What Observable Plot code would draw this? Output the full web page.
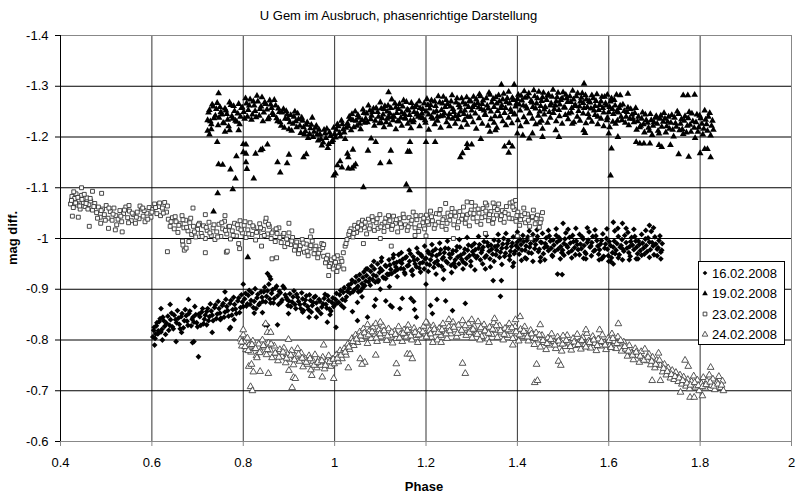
<!DOCTYPE html>
<html><head><meta charset="utf-8">
<script src="https://cdn.jsdelivr.net/npm/d3@7"></script>
<script src="https://cdn.jsdelivr.net/npm/@observablehq/plot@0.6"></script>
<style>body{margin:0;background:#fff}</style>
</head><body><div id="chart"></div>
<script>
const title = "U Gem im Ausbruch, phasenrichtige Darstellung";
const xLabel = "Phase";
const yLabel = "mag diff.";
const seriesNames = ["16.02.2008","19.02.2008","23.02.2008","24.02.2008"];
const xTicks = [0.4,0.6,0.8,1,1.2,1.4,1.6,1.8,2];
const yTicks = [-1.4,-1.3,-1.2,-1.1,-1,-0.9,-0.8,-0.7,-0.6];

// 16.02.2008 (phase, mag diff.)
const b16 = [[0.602,-0.806],[0.605,-0.825],[0.608,-0.812],[0.611,-0.834],[0.614,-0.818],[0.618,-0.842],[0.622,-0.821],[0.626,-0.838],[0.630,-0.811],[0.635,-0.847],[0.639,-0.829],[0.643,-0.853],[0.647,-0.822],[0.652,-0.840],[0.656,-0.858],[0.660,-0.831],[0.664,-0.846],[0.669,-0.824],[0.673,-0.860],[0.677,-0.837],[0.681,-0.852],[0.686,-0.828],[0.690,-0.845],[0.694,-0.866],[0.698,-0.834],[0.703,-0.851],[0.707,-0.829],[0.711,-0.862],[0.715,-0.841],[0.720,-0.856],[0.724,-0.838],[0.728,-0.871],[0.732,-0.849],[0.737,-0.864],[0.741,-0.842],[0.745,-0.876],[0.749,-0.853],[0.754,-0.868],[0.758,-0.845],[0.762,-0.880],[0.766,-0.858],[0.771,-0.872],[0.775,-0.849],[0.779,-0.884],[0.783,-0.861],[0.788,-0.877],[0.792,-0.854],[0.796,-0.889],[0.800,-0.866],[0.805,-0.892],[0.809,-0.871],[0.813,-0.898],[0.817,-0.878],[0.822,-0.864],[0.826,-0.901],[0.830,-0.883],[0.834,-0.869],[0.839,-0.895],[0.843,-0.876],[0.847,-0.904],[0.851,-0.886],[0.856,-0.910],[0.860,-0.873],[0.864,-0.899],[0.868,-0.882],[0.873,-0.906],[0.877,-0.870],[0.881,-0.893],[0.885,-0.879],[0.890,-0.902],[0.894,-0.884],[0.898,-0.868],[0.902,-0.891],[0.907,-0.875],[0.911,-0.897],[0.915,-0.862],[0.919,-0.884],[0.924,-0.870],[0.928,-0.893],[0.932,-0.858],[0.936,-0.879],[0.941,-0.866],[0.945,-0.889],[0.949,-0.855],[0.953,-0.874],[0.958,-0.886],[0.962,-0.861],[0.966,-0.880],[0.970,-0.852],[0.975,-0.871],[0.979,-0.890],[0.983,-0.863],[0.987,-0.878],[0.992,-0.857],[0.996,-0.883],[1.000,-0.869],[1.004,-0.892],[1.009,-0.874],[1.013,-0.898],[1.017,-0.880],[1.021,-0.903],[1.026,-0.885],[1.030,-0.908],[1.034,-0.892],[1.038,-0.918],[1.043,-0.899],[1.047,-0.925],[1.051,-0.906],[1.055,-0.929],[1.060,-0.911],[1.064,-0.934],[1.068,-0.916],[1.072,-0.940],[1.077,-0.921],[1.081,-0.946],[1.085,-0.928],[1.089,-0.914],[1.094,-0.950],[1.098,-0.933],[1.102,-0.955],[1.106,-0.924],[1.111,-0.947],[1.115,-0.930],[1.119,-0.958],[1.123,-0.939],[1.128,-0.962],[1.132,-0.935],[1.136,-0.953],[1.140,-0.968],[1.145,-0.941],[1.149,-0.959],[1.153,-0.933],[1.157,-0.964],[1.162,-0.947],[1.166,-0.970],[1.170,-0.938],[1.174,-0.957],[1.179,-0.944],[1.183,-0.972],[1.187,-0.951],[1.191,-0.965],[1.196,-0.940],[1.200,-0.961],[1.204,-0.975],[1.208,-0.948],[1.213,-0.967],[1.217,-0.943],[1.221,-0.979],[1.225,-0.956],[1.230,-0.970],[1.234,-0.945],[1.238,-0.963],[1.242,-0.981],[1.247,-0.952],[1.251,-0.969],[1.255,-0.947],[1.259,-0.976],[1.264,-0.958],[1.268,-0.984],[1.272,-0.950],[1.276,-0.967],[1.281,-0.954],[1.285,-0.979],[1.289,-0.961],[1.293,-0.987],[1.298,-0.955],[1.302,-0.974],[1.306,-0.990],[1.310,-0.962],[1.315,-0.981],[1.319,-0.958],[1.323,-0.977],[1.327,-0.994],[1.332,-0.966],[1.336,-0.985],[1.340,-0.960],[1.344,-0.979],[1.349,-0.997],[1.353,-0.968],[1.357,-0.986],[1.361,-0.963],[1.366,-0.981],[1.370,-1.000],[1.374,-0.971],[1.378,-0.990],[1.383,-0.966],[1.387,-0.984],[1.391,-1.003],[1.395,-0.975],[1.400,-0.993],[1.404,-0.969],[1.408,-0.988],[1.412,-1.006],[1.417,-0.977],[1.421,-0.996],[1.425,-0.972],[1.429,-0.990],[1.434,-1.008],[1.438,-0.980],[1.442,-0.998],[1.446,-0.974],[1.451,-0.993],[1.455,-1.010],[1.459,-0.982],[1.463,-1.001],[1.468,-0.976],[1.472,-0.995],[1.476,-0.967],[1.480,-0.987],[1.485,-1.006],[1.489,-0.979],[1.493,-0.997],[1.497,-0.972],[1.502,-0.990],[1.506,-1.011],[1.510,-0.983],[1.514,-1.002],[1.519,-0.976],[1.523,-0.994],[1.527,-0.968],[1.531,-0.988],[1.536,-1.008],[1.540,-0.980],[1.544,-0.999],[1.548,-0.973],[1.553,-0.992],[1.557,-1.013],[1.561,-0.985],[1.565,-1.004],[1.570,-0.977],[1.574,-0.996],[1.578,-0.969],[1.582,-0.989],[1.587,-1.009],[1.591,-0.981],[1.595,-1.000],[1.599,-0.966],[1.604,-0.986],[1.608,-0.972],[1.612,-0.995],[1.616,-0.977],[1.621,-1.004],[1.625,-0.983],[1.629,-0.998],[1.633,-0.975],[1.638,-0.992],[1.642,-1.012],[1.646,-0.984],[1.650,-1.002],[1.655,-0.978],[1.659,-0.995],[1.663,-0.970],[1.667,-0.988],[1.672,-1.008],[1.676,-0.981],[1.680,-0.999],[1.684,-0.974],[1.689,-0.993],[1.693,-1.014],[1.697,-0.985],[1.701,-1.003],[1.706,-0.979],[1.710,-0.996],[1.714,-0.973],[1.717,-0.990]];
const c16 = [[0.604,-0.819],[0.607,-0.803],[0.610,-0.828],[0.613,-0.812],[0.616,-0.836],[0.620,-0.816],[0.624,-0.845],[0.628,-0.827],[0.632,-0.833],[0.637,-0.819],[0.641,-0.840],[0.645,-0.826],[0.649,-0.849],[0.654,-0.834],[0.658,-0.843],[0.662,-0.822],[0.666,-0.852],[0.671,-0.838],[0.675,-0.848],[0.679,-0.829],[0.683,-0.857],[0.688,-0.841],[0.692,-0.835],[0.696,-0.850],[0.700,-0.826],[0.705,-0.846],[0.709,-0.855],[0.713,-0.832],[0.717,-0.849],[0.722,-0.862],[0.726,-0.846],[0.730,-0.857],[0.734,-0.838],[0.739,-0.869],[0.743,-0.851],[0.747,-0.862],[0.751,-0.843],[0.756,-0.872],[0.760,-0.855],[0.764,-0.866],[0.768,-0.847],[0.773,-0.878],[0.777,-0.860],[0.781,-0.870],[0.785,-0.852],[0.790,-0.883],[0.794,-0.864],[0.798,-0.875],[0.803,-0.881],[0.807,-0.867],[0.811,-0.888],[0.815,-0.870],[0.819,-0.893],[0.824,-0.876],[0.828,-0.862],[0.832,-0.890],[0.836,-0.872],[0.841,-0.884],[0.845,-0.895],[0.849,-0.875],[0.853,-0.897],[0.858,-0.881],[0.862,-0.892],[0.866,-0.873],[0.870,-0.902],[0.875,-0.887],[0.879,-0.896],[0.883,-0.875],[0.887,-0.906],[0.892,-0.889],[0.896,-0.880],[0.900,-0.877],[0.904,-0.866],[0.909,-0.885],[0.913,-0.870],[0.917,-0.890],[0.921,-0.876],[0.926,-0.862],[0.930,-0.881],[0.934,-0.871],[0.938,-0.887],[0.943,-0.860],[0.947,-0.878],[0.951,-0.868],[0.955,-0.884],[0.960,-0.873],[0.964,-0.858],[0.968,-0.876],[0.972,-0.865],[0.977,-0.882],[0.981,-0.870],[0.985,-0.887],[0.989,-0.861],[0.994,-0.874],[0.998,-0.866],[1.002,-0.880],[1.006,-0.873],[1.011,-0.889],[1.015,-0.868],[1.019,-0.894],[1.023,-0.878],[1.028,-0.896],[1.032,-0.902],[1.036,-0.911],[1.040,-0.895],[1.045,-0.914],[1.049,-0.903],[1.053,-0.918],[1.057,-0.897],[1.062,-0.923],[1.066,-0.907],[1.070,-0.927],[1.074,-0.915],[1.079,-0.935],[1.083,-0.919],[1.087,-0.940],[1.091,-0.926],[1.096,-0.918],[1.100,-0.941],[1.104,-0.937],[1.108,-0.922],[1.113,-0.945],[1.117,-0.929],[1.121,-0.948],[1.125,-0.931],[1.130,-0.951],[1.134,-0.944],[1.138,-0.939],[1.142,-0.955],[1.147,-0.951],[1.151,-0.940],[1.155,-0.962],[1.159,-0.946],[1.164,-0.955],[1.168,-0.936],[1.172,-0.964],[1.176,-0.950],[1.181,-0.959],[1.185,-0.942],[1.189,-0.968],[1.193,-0.953],[1.198,-0.960],[1.202,-0.950],[1.206,-0.971],[1.210,-0.958],[1.215,-0.975],[1.219,-0.952],[1.223,-0.966],[1.227,-0.948],[1.232,-0.978],[1.236,-0.960],[1.240,-0.972],[1.244,-0.955],[1.249,-0.980],[1.253,-0.962],[1.257,-0.970],[1.261,-0.951],[1.266,-0.976],[1.270,-0.964],[1.274,-0.983],[1.278,-0.959],[1.283,-0.971],[1.287,-0.950],[1.291,-0.977],[1.295,-0.966],[1.300,-0.985],[1.304,-0.968],[1.308,-0.978],[1.312,-0.965],[1.317,-0.988],[1.321,-0.972],[1.325,-0.983],[1.329,-0.963],[1.334,-0.992],[1.338,-0.975],[1.342,-0.987],[1.346,-0.969],[1.351,-0.984],[1.355,-0.977],[1.359,-0.995],[1.363,-0.973],[1.368,-0.989],[1.372,-0.965],[1.376,-0.982],[1.380,-0.996],[1.385,-0.975],[1.389,-0.991],[1.393,-0.970],[1.397,-0.986],[1.402,-0.981],[1.406,-0.998],[1.410,-0.977],[1.414,-0.994],[1.419,-0.985],[1.423,-1.003],[1.427,-0.983],[1.431,-0.971],[1.436,-0.996],[1.440,-0.988],[1.444,-1.004],[1.448,-0.979],[1.453,-0.992],[1.457,-0.970],[1.461,-0.990],[1.465,-0.984],[1.470,-1.005],[1.474,-0.981],[1.478,-0.997],[1.482,-0.975],[1.487,-0.993],[1.491,-1.002],[1.495,-0.984],[1.499,-0.977],[1.504,-0.999],[1.508,-0.986],[1.512,-0.972],[1.516,-0.991],[1.521,-1.006],[1.525,-0.982],[1.529,-0.995],[1.533,-0.978],[1.538,-0.989],[1.542,-1.003],[1.546,-0.986],[1.550,-0.970],[1.555,-0.997],[1.559,-0.983],[1.563,-0.992],[1.567,-0.975],[1.572,-1.005],[1.576,-0.985],[1.580,-0.978],[1.584,-0.996],[1.589,-0.965],[1.593,-0.989],[1.597,-0.979],[1.601,-0.994],[1.606,-0.962],[1.610,-0.983],[1.614,-0.970],[1.618,-0.990],[1.623,-0.968],[1.627,-0.986],[1.631,-0.979],[1.635,-1.006],[1.640,-0.981],[1.644,-0.972],[1.648,-0.994],[1.652,-0.987],[1.657,-1.004],[1.661,-0.983],[1.665,-0.995],[1.669,-0.976],[1.674,-0.991],[1.678,-0.969],[1.682,-0.986],[1.686,-1.001],[1.691,-0.978],[1.695,-0.992],[1.699,-0.968],[1.703,-0.989],[1.708,-0.982],[1.712,-1.005],[1.716,-0.977]];
const e16 = [[1.052,-0.895],[1.061,-0.902],[1.069,-0.940],[1.078,-0.908],[1.086,-0.955],[1.095,-0.915],[1.103,-0.962],[1.112,-0.921],[1.120,-0.930],[1.129,-0.968],[1.137,-0.925],[1.146,-0.972],[1.154,-0.930],[1.163,-0.977],[1.171,-0.928],[1.180,-0.981],[1.188,-0.934],[1.197,-0.985],[1.205,-0.935],[1.213,-0.988],[1.222,-0.930],[1.230,-0.991],[1.239,-0.938],[1.247,-0.995],[1.256,-0.933],[1.264,-0.944],[1.273,-0.998],[1.281,-0.940],[1.290,-1.002],[1.298,-0.946],[1.307,-0.938],[1.315,-1.004],[1.324,-0.950],[1.332,-1.006],[1.341,-0.944],[1.349,-0.955],[1.358,-1.008],[1.366,-0.949],[1.375,-1.010],[1.383,-0.958],[1.392,-0.952],[1.400,-1.013],[1.409,-0.957],[1.417,-0.962],[1.426,-1.015],[1.434,-0.955],[1.443,-1.017],[1.451,-0.963],[1.460,-0.958],[1.468,-1.016],[1.477,-0.965],[1.485,-1.019],[1.494,-0.960],[1.502,-0.967],[1.511,-1.018],[1.519,-0.962],[1.528,-1.020],[1.536,-0.968],[1.545,-0.961],[1.553,-1.021],[1.562,-0.966],[1.570,-1.017],[1.579,-0.958],[1.587,-0.963],[1.596,-1.019],[1.604,-0.955],[1.613,-1.015],[1.621,-0.962],[1.630,-0.958],[1.638,-1.020],[1.647,-0.965],[1.655,-1.018],[1.664,-0.960],[1.672,-0.967],[1.681,-1.016],[1.689,-0.963],[1.698,-1.021],[1.706,-0.966],[1.714,-0.960]];
const o16 = [[0.606,-0.79],[0.623,-0.8],[0.653,-0.797],[0.689,-0.795],[0.692,-0.797],[0.702,-0.767],[0.732,-0.815],[0.772,-0.825],[0.77,-0.822],[0.824,-0.853],[0.842,-0.854],[0.847,-0.83],[0.875,-0.83],[0.853,-0.829],[0.899,-0.852],[0.944,-0.845],[0.984,-0.835],[1.003,-0.825],[0.99,-0.85],[0.853,-0.931],[0.858,-0.925],[1.02,-0.864],[1.039,-0.856],[1.05,-0.874],[1.05,-0.838],[1.072,-0.845],[1.087,-0.867],[1.09,-0.88],[1.112,-0.877],[1.122,-0.868],[1.126,-0.865],[1.143,-0.862],[1.148,-0.882],[1.167,-0.882],[1.173,-0.876],[1.175,-0.86],[1.179,-0.845],[1.21,-0.868],[1.214,-0.852],[1.224,-0.88],[1.243,-0.877],[1.258,-0.858],[1.286,-0.872],[1.347,-0.917],[1.365,-0.917],[1.363,-0.886],[1.39,-0.945],[1.498,-0.929],[1.488,-0.93],[1.61,-1.032],[1.63,-1.03],[1.62,-1.02],[1.689,-1.026],[1.5,-1.03],[1.238,-0.92],[1.12,-0.905],[1.2,-0.91],[1.6,-0.955],[1.61,-0.95],[1.585,-0.96],[1.66,-0.96],[1.645,-0.958],[0.62,-0.862],[0.64,-0.87],[0.68,-0.88],[0.76,-0.895],[0.8,-0.91],[0.86,-0.92],[0.665,-0.815],[0.72,-0.83],[0.75,-0.84],[0.78,-0.84],[0.93,-0.855],[0.96,-0.845],[1.06,-0.885],[1.1,-0.9],[1.33,-0.94],[1.42,-0.96],[1.45,-0.955],[1.55,-0.96]];

// 19.02.2008
const b19 = [[0.722,-1.233],[0.726,-1.253],[0.730,-1.225],[0.734,-1.260],[0.739,-1.242],[0.743,-1.267],[0.747,-1.238],[0.751,-1.249],[0.756,-1.228],[0.760,-1.256],[0.764,-1.245],[0.768,-1.221],[0.773,-1.263],[0.777,-1.236],[0.781,-1.251],[0.786,-1.230],[0.790,-1.265],[0.794,-1.240],[0.798,-1.258],[0.803,-1.236],[0.807,-1.266],[0.811,-1.253],[0.815,-1.274],[0.820,-1.244],[0.824,-1.262],[0.828,-1.239],[0.832,-1.270],[0.837,-1.255],[0.841,-1.278],[0.845,-1.248],[0.849,-1.265],[0.854,-1.235],[0.858,-1.272],[0.862,-1.257],[0.866,-1.243],[0.871,-1.262],[0.875,-1.231],[0.879,-1.249],[0.883,-1.222],[0.888,-1.255],[0.892,-1.236],[0.896,-1.244],[0.900,-1.215],[0.904,-1.243],[0.909,-1.226],[0.913,-1.250],[0.917,-1.219],[0.921,-1.235],[0.926,-1.208],[0.930,-1.232],[0.934,-1.205],[0.938,-1.224],[0.942,-1.198],[0.947,-1.217],[0.951,-1.238],[0.955,-1.210],[0.960,-1.222],[0.964,-1.193],[0.968,-1.205],[0.972,-1.183],[0.977,-1.214],[0.981,-1.198],[0.985,-1.178],[0.989,-1.209],[0.994,-1.190],[0.998,-1.218],[1.002,-1.199],[1.006,-1.225],[1.011,-1.208],[1.015,-1.232],[1.019,-1.215],[1.023,-1.196],[1.028,-1.227],[1.032,-1.240],[1.036,-1.213],[1.040,-1.233],[1.045,-1.250],[1.049,-1.222],[1.053,-1.238],[1.057,-1.215],[1.062,-1.254],[1.066,-1.228],[1.070,-1.246],[1.074,-1.262],[1.079,-1.235],[1.083,-1.249],[1.087,-1.222],[1.091,-1.257],[1.096,-1.240],[1.100,-1.268],[1.104,-1.237],[1.108,-1.255],[1.113,-1.229],[1.117,-1.262],[1.121,-1.246],[1.125,-1.274],[1.130,-1.240],[1.134,-1.258],[1.138,-1.231],[1.142,-1.265],[1.147,-1.248],[1.151,-1.272],[1.155,-1.236],[1.159,-1.254],[1.164,-1.243],[1.168,-1.267],[1.172,-1.229],[1.176,-1.259],[1.181,-1.246],[1.185,-1.270],[1.189,-1.238],[1.193,-1.255],[1.198,-1.233],[1.202,-1.275],[1.206,-1.244],[1.210,-1.263],[1.215,-1.236],[1.219,-1.270],[1.223,-1.251],[1.227,-1.280],[1.232,-1.241],[1.236,-1.266],[1.240,-1.247],[1.244,-1.273],[1.249,-1.238],[1.253,-1.260],[1.257,-1.282],[1.261,-1.249],[1.266,-1.268],[1.270,-1.235],[1.274,-1.258],[1.278,-1.276],[1.283,-1.245],[1.287,-1.264],[1.291,-1.240],[1.295,-1.271],[1.300,-1.252],[1.304,-1.279],[1.308,-1.246],[1.313,-1.267],[1.317,-1.284],[1.321,-1.255],[1.325,-1.272],[1.330,-1.243],[1.334,-1.262],[1.338,-1.287],[1.342,-1.250],[1.347,-1.275],[1.351,-1.241],[1.355,-1.266],[1.359,-1.282],[1.364,-1.257],[1.368,-1.274],[1.372,-1.247],[1.376,-1.269],[1.381,-1.289],[1.385,-1.254],[1.389,-1.277],[1.393,-1.244],[1.398,-1.266],[1.402,-1.283],[1.406,-1.252],[1.410,-1.272],[1.415,-1.290],[1.419,-1.260],[1.423,-1.279],[1.427,-1.247],[1.432,-1.268],[1.436,-1.292],[1.440,-1.256],[1.444,-1.276],[1.449,-1.250],[1.453,-1.271],[1.457,-1.287],[1.461,-1.259],[1.466,-1.281],[1.470,-1.249],[1.474,-1.266],[1.478,-1.293],[1.483,-1.262],[1.487,-1.278],[1.491,-1.253],[1.495,-1.273],[1.500,-1.288],[1.504,-1.258],[1.508,-1.276],[1.512,-1.246],[1.517,-1.269],[1.521,-1.291],[1.525,-1.261],[1.529,-1.280],[1.534,-1.251],[1.538,-1.270],[1.542,-1.286],[1.546,-1.257],[1.551,-1.274],[1.555,-1.245],[1.559,-1.268],[1.563,-1.282],[1.568,-1.252],[1.572,-1.271],[1.576,-1.240],[1.580,-1.263],[1.585,-1.279],[1.589,-1.248],[1.593,-1.266],[1.597,-1.238],[1.602,-1.259],[1.606,-1.276],[1.610,-1.245],[1.614,-1.262],[1.619,-1.232],[1.623,-1.257],[1.627,-1.240],[1.631,-1.264],[1.636,-1.228],[1.640,-1.249],[1.644,-1.223],[1.648,-1.255],[1.653,-1.236],[1.657,-1.247],[1.661,-1.214],[1.665,-1.240],[1.670,-1.222],[1.674,-1.248],[1.678,-1.209],[1.682,-1.233],[1.687,-1.218],[1.691,-1.245],[1.695,-1.204],[1.699,-1.229],[1.704,-1.241],[1.708,-1.212],[1.712,-1.236],[1.716,-1.220],[1.721,-1.247],[1.725,-1.209],[1.729,-1.230],[1.733,-1.216],[1.738,-1.243],[1.742,-1.201],[1.746,-1.227],[1.750,-1.250],[1.755,-1.213],[1.759,-1.235],[1.763,-1.206],[1.767,-1.241],[1.772,-1.222],[1.776,-1.249],[1.780,-1.210],[1.784,-1.231],[1.789,-1.198],[1.793,-1.244],[1.797,-1.219],[1.801,-1.237],[1.806,-1.205],[1.810,-1.252],[1.814,-1.225],[1.818,-1.240],[1.823,-1.203],[1.827,-1.232],[1.829,-1.214]];
const c19 = [[0.724,-1.248],[0.728,-1.231],[0.732,-1.264],[0.736,-1.237],[0.741,-1.255],[0.745,-1.223],[0.749,-1.259],[0.753,-1.244],[0.758,-1.227],[0.762,-1.252],[0.766,-1.234],[0.770,-1.268],[0.775,-1.241],[0.779,-1.261],[0.783,-1.232],[0.788,-1.246],[0.792,-1.225],[0.796,-1.257],[0.801,-1.249],[0.805,-1.276],[0.809,-1.240],[0.813,-1.262],[0.818,-1.234],[0.822,-1.270],[0.826,-1.251],[0.830,-1.281],[0.835,-1.242],[0.839,-1.260],[0.843,-1.231],[0.847,-1.268],[0.852,-1.254],[0.856,-1.238],[0.860,-1.264],[0.864,-1.247],[0.868,-1.273],[0.873,-1.237],[0.877,-1.256],[0.881,-1.229],[0.885,-1.248],[0.890,-1.218],[0.894,-1.251],[0.898,-1.236],[0.902,-1.229],[0.906,-1.212],[0.911,-1.240],[0.915,-1.231],[0.919,-1.246],[0.924,-1.222],[0.928,-1.238],[0.932,-1.219],[0.936,-1.211],[0.940,-1.229],[0.945,-1.206],[0.949,-1.224],[0.953,-1.200],[0.958,-1.218],[0.962,-1.205],[0.966,-1.214],[0.970,-1.196],[0.975,-1.189],[0.979,-1.207],[0.983,-1.216],[0.987,-1.186],[0.991,-1.202],[0.996,-1.194],[1.000,-1.206],[1.004,-1.214],[1.008,-1.221],[1.013,-1.201],[1.017,-1.225],[1.021,-1.209],[1.025,-1.218],[1.030,-1.221],[1.034,-1.235],[1.038,-1.245],[1.042,-1.219],[1.047,-1.232],[1.051,-1.243],[1.055,-1.226],[1.060,-1.233],[1.064,-1.247],[1.068,-1.236],[1.072,-1.229],[1.077,-1.252],[1.081,-1.242],[1.085,-1.256],[1.089,-1.232],[1.094,-1.249],[1.098,-1.227],[1.102,-1.256],[1.106,-1.244],[1.110,-1.261],[1.115,-1.250],[1.119,-1.239],[1.123,-1.257],[1.128,-1.233],[1.132,-1.266],[1.136,-1.247],[1.140,-1.255],[1.145,-1.238],[1.149,-1.260],[1.153,-1.245],[1.157,-1.269],[1.162,-1.252],[1.166,-1.232],[1.170,-1.258],[1.174,-1.249],[1.179,-1.263],[1.183,-1.240],[1.187,-1.257],[1.191,-1.246],[1.196,-1.266],[1.200,-1.250],[1.204,-1.263],[1.208,-1.256],[1.212,-1.272],[1.217,-1.248],[1.221,-1.261],[1.225,-1.240],[1.230,-1.268],[1.234,-1.253],[1.238,-1.279],[1.242,-1.259],[1.247,-1.265],[1.251,-1.245],[1.255,-1.270],[1.259,-1.255],[1.264,-1.241],[1.268,-1.276],[1.272,-1.263],[1.276,-1.250],[1.281,-1.268],[1.285,-1.252],[1.289,-1.278],[1.293,-1.259],[1.298,-1.270],[1.302,-1.259],[1.306,-1.263],[1.310,-1.274],[1.315,-1.258],[1.319,-1.280],[1.323,-1.265],[1.327,-1.252],[1.332,-1.276],[1.336,-1.256],[1.340,-1.283],[1.344,-1.268],[1.349,-1.259],[1.353,-1.278],[1.357,-1.251],[1.361,-1.270],[1.366,-1.262],[1.370,-1.285],[1.374,-1.257],[1.378,-1.276],[1.383,-1.266],[1.387,-1.249],[1.391,-1.273],[1.396,-1.260],[1.400,-1.275],[1.404,-1.264],[1.408,-1.281],[1.413,-1.262],[1.417,-1.277],[1.421,-1.256],[1.425,-1.286],[1.430,-1.271],[1.434,-1.259],[1.438,-1.280],[1.442,-1.266],[1.447,-1.289],[1.451,-1.261],[1.455,-1.278],[1.459,-1.254],[1.464,-1.273],[1.468,-1.284],[1.472,-1.262],[1.476,-1.279],[1.481,-1.255],[1.485,-1.270],[1.489,-1.287],[1.493,-1.264],[1.498,-1.276],[1.502,-1.258],[1.506,-1.283],[1.510,-1.269],[1.515,-1.280],[1.519,-1.257],[1.523,-1.274],[1.527,-1.263],[1.532,-1.286],[1.536,-1.260],[1.540,-1.277],[1.544,-1.267],[1.549,-1.282],[1.553,-1.259],[1.557,-1.271],[1.561,-1.256],[1.566,-1.276],[1.570,-1.261],[1.574,-1.284],[1.578,-1.253],[1.583,-1.270],[1.587,-1.257],[1.591,-1.279],[1.595,-1.262],[1.600,-1.249],[1.604,-1.270],[1.608,-1.255],[1.612,-1.273],[1.617,-1.250],[1.621,-1.248],[1.625,-1.262],[1.629,-1.233],[1.634,-1.251],[1.638,-1.240],[1.642,-1.258],[1.646,-1.236],[1.651,-1.244],[1.655,-1.229],[1.659,-1.257],[1.663,-1.231],[1.668,-1.219],[1.672,-1.236],[1.676,-1.225],[1.680,-1.244],[1.685,-1.228],[1.689,-1.212],[1.693,-1.233],[1.697,-1.222],[1.702,-1.238],[1.706,-1.226],[1.710,-1.207],[1.714,-1.242],[1.719,-1.230],[1.723,-1.236],[1.727,-1.221],[1.731,-1.240],[1.736,-1.228],[1.740,-1.214],[1.744,-1.238],[1.748,-1.220],[1.753,-1.245],[1.757,-1.226],[1.761,-1.215],[1.765,-1.232],[1.770,-1.209],[1.774,-1.237],[1.778,-1.224],[1.782,-1.246],[1.787,-1.218],[1.791,-1.229],[1.795,-1.210],[1.799,-1.242],[1.804,-1.226],[1.808,-1.216],[1.812,-1.234],[1.816,-1.212],[1.821,-1.247],[1.825,-1.222]];
const e19 = [[1.102,-1.228],[1.108,-1.219],[1.115,-1.236],[1.121,-1.224],[1.128,-1.241],[1.134,-1.215],[1.141,-1.231],[1.147,-1.222],[1.154,-1.238],[1.160,-1.226],[1.167,-1.217],[1.173,-1.233],[1.180,-1.244],[1.186,-1.221],[1.193,-1.237],[1.199,-1.228],[1.206,-1.214],[1.212,-1.239],[1.219,-1.225],[1.225,-1.232],[1.232,-1.218],[1.238,-1.242],[1.245,-1.229],[1.251,-1.221],[1.258,-1.236],[1.264,-1.226],[1.271,-1.243],[1.277,-1.219],[1.284,-1.233],[1.290,-1.224],[1.297,-1.240],[1.303,-1.229],[1.310,-1.216],[1.316,-1.237],[1.323,-1.226],[1.329,-1.244],[1.336,-1.222],[1.342,-1.235],[1.349,-1.228],[1.355,-1.218],[1.362,-1.241],[1.368,-1.231],[1.375,-1.223],[1.381,-1.238],[1.388,-1.227],[1.394,-1.245],[1.401,-1.233],[1.407,-1.221],[1.414,-1.239],[1.420,-1.229],[1.427,-1.246],[1.433,-1.236],[1.440,-1.225],[1.446,-1.242],[1.453,-1.232],[1.459,-1.244],[1.466,-1.228],[1.472,-1.238],[1.479,-1.247],[1.485,-1.231],[1.492,-1.241],[1.498,-1.226],[1.505,-1.243],[1.511,-1.235],[1.518,-1.248],[1.524,-1.229],[1.531,-1.240],[1.537,-1.232],[1.544,-1.246],[1.550,-1.227],[1.557,-1.238],[1.563,-1.230],[1.570,-1.243],[1.576,-1.225],[1.583,-1.236],[1.589,-1.221],[1.596,-1.233],[1.602,-1.219],[1.609,-1.230],[1.615,-1.226]];
const o19 = [[0.743,-1.19],[0.746,-1.146],[0.755,-1.145],[0.772,-1.136],[0.783,-1.118],[0.777,-1.097],[0.744,-1.089],[0.785,-1.162],[0.8,-1.17],[0.8,-1.186],[0.806,-1.185],[0.806,-1.167],[0.806,-1.15],[0.808,-1.137],[0.823,-1.118],[0.827,-1.167],[0.838,-1.174],[0.842,-1.176],[0.853,-1.185],[0.875,-1.15],[0.881,-1.13],[0.896,-1.148],[0.9,-1.165],[0.932,-1.16],[0.938,-1.166],[0.998,-1.124],[1.002,-1.128],[1.006,-1.144],[1.012,-1.152],[1.028,-1.167],[1.03,-1.16],[1.016,-1.14],[1.03,-1.138],[1.04,-1.175],[1.038,-1.138],[1.042,-1.142],[1.046,-1.146],[1.063,-1.101],[1.073,-1.173],[1.08,-1.197],[1.09,-1.19],[1.12,-1.15],[1.123,-1.173],[1.16,-1.171],[1.164,-1.171],[1.157,-1.106],[1.164,-1.095],[1.165,-1.19],[1.2,-1.19],[1.22,-1.19],[1.29,-1.186],[1.29,-1.178],[1.275,-1.16],[1.28,-1.168],[1.3,-1.185],[1.32,-1.196],[1.34,-1.21],[1.352,-1.213],[1.372,-1.181],[1.382,-1.188],[1.389,-1.181],[1.381,-1.169],[1.4,-1.207],[1.412,-1.203],[1.426,-1.197],[1.433,-1.207],[1.42,-1.23],[1.448,-1.228],[1.455,-1.216],[1.455,-1.2],[1.484,-1.213],[1.491,-1.2],[1.52,-1.226],[1.545,-1.213],[1.548,-1.208],[1.6,-1.207],[1.606,-1.177],[1.604,-1.124],[1.62,-1.2],[1.66,-1.19],[1.668,-1.187],[1.677,-1.187],[1.69,-1.187],[1.71,-1.184],[1.716,-1.18],[1.735,-1.184],[1.753,-1.166],[1.775,-1.161],[1.8,-1.168],[1.81,-1.176],[1.816,-1.176],[1.823,-1.16],[1.365,-1.303],[1.393,-1.303],[1.546,-1.305],[1.763,-1.282],[1.773,-1.282],[1.788,-1.283],[1.597,-1.283],[1.617,-1.283],[1.625,-1.282],[1.642,-1.285],[0.735,-1.053],[0.81,-0.963],[0.746,-1.286],[1.118,-1.288],[1.1,-1.148],[0.722,-1.212],[0.73,-1.215],[0.726,-1.205],[0.76,-1.21],[0.79,-1.213],[0.77,-1.213]];

// 23.02.2008
const b23 = [[0.422,-1.068],[0.425,-1.083],[0.428,-1.061],[0.431,-1.079],[0.434,-1.088],[0.437,-1.066],[0.440,-1.076],[0.443,-1.058],[0.446,-1.085],[0.450,-1.071],[0.454,-1.063],[0.458,-1.080],[0.462,-1.067],[0.466,-1.074],[0.470,-1.056],[0.475,-1.069],[0.479,-1.051],[0.483,-1.062],[0.487,-1.042],[0.492,-1.058],[0.496,-1.047],[0.500,-1.065],[0.504,-1.040],[0.509,-1.053],[0.513,-1.036],[0.517,-1.060],[0.521,-1.045],[0.526,-1.038],[0.530,-1.055],[0.534,-1.033],[0.538,-1.049],[0.543,-1.062],[0.547,-1.041],[0.551,-1.054],[0.555,-1.035],[0.560,-1.047],[0.564,-1.030],[0.568,-1.052],[0.572,-1.039],[0.577,-1.058],[0.581,-1.044],[0.585,-1.033],[0.589,-1.050],[0.594,-1.061],[0.598,-1.042],[0.602,-1.057],[0.606,-1.068],[0.611,-1.049],[0.615,-1.063],[0.619,-1.045],[0.623,-1.060],[0.628,-1.071],[0.632,-1.052],[0.636,-1.038],[0.640,-1.024],[0.645,-1.041],[0.649,-1.019],[0.653,-1.033],[0.657,-1.012],[0.662,-1.029],[0.666,-1.045],[0.670,-1.021],[0.674,-1.036],[0.679,-1.015],[0.683,-1.031],[0.687,-1.008],[0.691,-1.024],[0.696,-1.003],[0.700,-1.018],[0.704,-1.030],[0.708,-1.010],[0.713,-1.025],[0.717,-1.000],[0.721,-1.016],[0.725,-1.032],[0.730,-1.006],[0.734,-1.021],[0.738,-0.998],[0.742,-1.013],[0.747,-1.028],[0.751,-1.004],[0.755,-1.019],[0.759,-1.034],[0.764,-1.009],[0.768,-1.023],[0.772,-0.999],[0.776,-1.015],[0.781,-1.030],[0.785,-1.005],[0.789,-1.020],[0.793,-1.035],[0.798,-1.011],[0.802,-1.026],[0.806,-1.002],[0.810,-1.017],[0.815,-1.031],[0.819,-1.008],[0.823,-1.022],[0.827,-0.997],[0.832,-1.014],[0.836,-1.029],[0.840,-1.004],[0.844,-1.018],[0.849,-1.033],[0.853,-1.009],[0.857,-1.024],[0.861,-1.000],[0.866,-1.015],[0.870,-0.994],[0.874,-1.010],[0.878,-1.021],[0.883,-0.992],[0.887,-1.006],[0.891,-0.984],[0.895,-0.999],[0.900,-1.011],[0.904,-0.988],[0.908,-1.002],[0.912,-0.977],[0.917,-0.993],[0.921,-0.970],[0.925,-0.986],[0.929,-0.998],[0.934,-0.973],[0.938,-0.989],[0.942,-0.966],[0.946,-0.981],[0.951,-0.995],[0.955,-0.970],[0.959,-0.985],[0.963,-0.962],[0.968,-0.978],[0.972,-0.990],[0.976,-0.965],[0.980,-0.952],[0.985,-0.967],[0.989,-0.945],[0.993,-0.958],[0.997,-0.940],[1.002,-0.953],[1.006,-0.966],[1.010,-0.947],[1.014,-0.960],[1.019,-0.972],[1.023,-0.985],[1.027,-0.998],[1.031,-1.008],[1.036,-1.019],[1.040,-1.003],[1.044,-1.026],[1.048,-1.012],[1.053,-1.031],[1.057,-1.017],[1.061,-1.036],[1.065,-1.022],[1.070,-1.009],[1.074,-1.038],[1.078,-1.025],[1.082,-1.043],[1.087,-1.016],[1.091,-1.031],[1.095,-1.020],[1.099,-1.047],[1.104,-1.028],[1.108,-1.014],[1.112,-1.040],[1.116,-1.024],[1.121,-1.035],[1.125,-1.018],[1.129,-1.044],[1.133,-1.030],[1.138,-1.013],[1.142,-1.039],[1.146,-1.022],[1.150,-1.048],[1.155,-1.027],[1.159,-1.016],[1.163,-1.041],[1.167,-1.029],[1.172,-1.052],[1.176,-1.021],[1.180,-1.037],[1.184,-1.014],[1.189,-1.045],[1.193,-1.031],[1.197,-1.019],[1.201,-1.046],[1.206,-1.028],[1.210,-1.054],[1.214,-1.035],[1.218,-1.020],[1.223,-1.049],[1.227,-1.032],[1.231,-1.057],[1.235,-1.024],[1.240,-1.041],[1.244,-1.018],[1.248,-1.050],[1.252,-1.036],[1.257,-1.059],[1.261,-1.027],[1.265,-1.044],[1.269,-1.021],[1.274,-1.053],[1.278,-1.038],[1.282,-1.062],[1.286,-1.030],[1.291,-1.047],[1.295,-1.025],[1.299,-1.056],[1.303,-1.040],[1.308,-1.064],[1.312,-1.033],[1.316,-1.050],[1.320,-1.028],[1.325,-1.059],[1.329,-1.043],[1.333,-1.066],[1.337,-1.035],[1.342,-1.053],[1.346,-1.030],[1.350,-1.061],[1.354,-1.046],[1.359,-1.068],[1.363,-1.037],[1.367,-1.055],[1.371,-1.032],[1.376,-1.063],[1.380,-1.048],[1.384,-1.070],[1.388,-1.039],[1.393,-1.057],[1.397,-1.034],[1.401,-1.052],[1.405,-1.026],[1.410,-1.045],[1.414,-1.060],[1.418,-1.031],[1.422,-1.048],[1.427,-1.024],[1.431,-1.041],[1.435,-1.056],[1.439,-1.029],[1.444,-1.046],[1.448,-1.022],[1.452,-1.038],[1.455,-1.051]];
const c23 = [[0.424,-1.075],[0.429,-1.092],[0.433,-1.070],[0.438,-1.081],[0.442,-1.064],[0.447,-1.077],[0.452,-1.087],[0.456,-1.069],[0.460,-1.058],[0.465,-1.079],[0.473,-1.063],[0.481,-1.040],[0.489,-1.055],[0.498,-1.036],[0.506,-1.060],[0.515,-1.048],[0.523,-1.027],[0.532,-1.044],[0.540,-1.056],[0.549,-1.031],[0.557,-1.050],[0.566,-1.042],[0.574,-1.064],[0.583,-1.055],[0.591,-1.038],[0.600,-1.052],[0.608,-1.061],[0.617,-1.070],[0.625,-1.050],[0.634,-1.064],[0.642,-1.033],[0.651,-1.043],[0.659,-1.026],[0.668,-1.037],[0.676,-1.022],[0.685,-1.040],[0.693,-1.013],[0.702,-1.027],[0.710,-1.004],[0.719,-1.022],[0.727,-1.011],[0.736,-1.027],[0.744,-1.003],[0.753,-1.031],[0.761,-1.016],[0.770,-1.024],[0.778,-1.006],[0.787,-1.027],[0.795,-1.017],[0.804,-1.033],[0.812,-1.009],[0.821,-1.025],[0.829,-1.012],[0.838,-1.021],[0.846,-1.006],[0.855,-1.028],[0.863,-1.011],[0.872,-1.019],[0.880,-1.002],[0.889,-1.010],[0.897,-0.990],[0.906,-0.995],[0.914,-0.985],[0.923,-0.978],[0.931,-0.991],[0.940,-0.975],[0.948,-0.986],[0.957,-0.978],[0.965,-0.971],[0.974,-0.982],[0.982,-0.960],[0.991,-0.950],[0.999,-0.962],[1.008,-0.944],[1.016,-0.955],[1.025,-0.990],[1.033,-1.014],[1.042,-1.010],[1.050,-1.022],[1.059,-1.027],[1.067,-1.032],[1.076,-1.019],[1.084,-1.035],[1.093,-1.039],[1.101,-1.023],[1.110,-1.032],[1.118,-1.045],[1.127,-1.026],[1.135,-1.037],[1.144,-1.029],[1.152,-1.041],[1.161,-1.023],[1.169,-1.036],[1.178,-1.045],[1.186,-1.025],[1.195,-1.040],[1.203,-1.033],[1.212,-1.043],[1.220,-1.027],[1.229,-1.048],[1.237,-1.037],[1.246,-1.030],[1.254,-1.045],[1.263,-1.052],[1.271,-1.033],[1.280,-1.046],[1.288,-1.040],[1.297,-1.050],[1.305,-1.049],[1.314,-1.058],[1.322,-1.041],[1.331,-1.054],[1.339,-1.047],[1.348,-1.039],[1.356,-1.057],[1.365,-1.045],[1.373,-1.051],[1.382,-1.040],[1.390,-1.062],[1.399,-1.045],[1.407,-1.037],[1.416,-1.049],[1.424,-1.036],[1.433,-1.043],[1.441,-1.039],[1.450,-1.031]];
const o23 = [[0.426,-1.044],[0.439,-1.042],[0.463,-1.024],[0.488,-1.03],[0.505,-1.02],[0.52,-1.017],[0.535,-1.013],[0.47,-1.093],[0.49,-1.089],[0.446,-1.1],[0.634,-0.974],[0.667,-0.995],[0.681,-0.994],[0.668,-0.987],[0.671,-0.977],[0.675,-0.981],[0.717,-0.972],[0.763,-0.973],[0.792,-0.98],[0.79,-0.99],[0.69,-1.06],[0.717,-1.047],[0.863,-0.96],[0.873,-0.962],[0.987,-0.927],[0.988,-0.945],[0.947,-1.003],[0.976,-0.988],[0.765,-0.975],[1.063,-0.99],[1.124,-0.985],[1.176,-1.006],[1.243,-1.069],[1.3,-1.071],[1.347,-1.07],[1.39,-1.072],[1.396,-1.075],[1.29,-1.072],[1.33,-1.07],[0.58,-1.06],[0.55,-1.065],[0.9,-1.03],[0.95,-1.015],[1.02,-0.94],[1.005,-0.935],[1.1,-1.0],[1.2,-1.005],[1.26,-1.0],[1.33,-1.01],[1.4,-1.005],[1.43,-1.0],[0.84,-0.985],[0.85,-1.04],[0.76,-1.045]];

// 24.02.2008
const b24 = [[0.794,-0.802],[0.797,-0.788],[0.800,-0.810],[0.803,-0.795],[0.806,-0.781],[0.809,-0.804],[0.813,-0.790],[0.817,-0.776],[0.821,-0.798],[0.825,-0.783],[0.829,-0.769],[0.834,-0.792],[0.838,-0.778],[0.842,-0.800],[0.846,-0.786],[0.851,-0.771],[0.855,-0.794],[0.859,-0.780],[0.863,-0.765],[0.868,-0.788],[0.872,-0.773],[0.876,-0.759],[0.880,-0.781],[0.885,-0.767],[0.889,-0.784],[0.893,-0.755],[0.897,-0.772],[0.902,-0.762],[0.906,-0.779],[0.910,-0.751],[0.914,-0.768],[0.919,-0.783],[0.923,-0.758],[0.927,-0.774],[0.931,-0.747],[0.936,-0.763],[0.940,-0.752],[0.944,-0.769],[0.948,-0.741],[0.953,-0.758],[0.957,-0.771],[0.961,-0.745],[0.965,-0.761],[0.970,-0.750],[0.974,-0.766],[0.978,-0.743],[0.982,-0.757],[0.987,-0.769],[0.991,-0.748],[0.995,-0.762],[0.999,-0.753],[1.004,-0.771],[1.008,-0.757],[1.012,-0.779],[1.016,-0.763],[1.021,-0.783],[1.025,-0.770],[1.029,-0.792],[1.033,-0.781],[1.038,-0.803],[1.042,-0.789],[1.046,-0.810],[1.050,-0.795],[1.055,-0.816],[1.059,-0.801],[1.063,-0.822],[1.067,-0.807],[1.072,-0.793],[1.076,-0.818],[1.080,-0.803],[1.084,-0.825],[1.089,-0.811],[1.093,-0.797],[1.097,-0.820],[1.101,-0.806],[1.106,-0.827],[1.110,-0.813],[1.114,-0.799],[1.118,-0.822],[1.123,-0.808],[1.127,-0.794],[1.131,-0.817],[1.135,-0.803],[1.140,-0.826],[1.144,-0.811],[1.148,-0.797],[1.152,-0.820],[1.157,-0.806],[1.161,-0.829],[1.165,-0.814],[1.169,-0.800],[1.174,-0.823],[1.178,-0.809],[1.182,-0.795],[1.186,-0.818],[1.191,-0.804],[1.195,-0.827],[1.199,-0.812],[1.203,-0.833],[1.208,-0.819],[1.212,-0.805],[1.216,-0.828],[1.220,-0.814],[1.225,-0.800],[1.229,-0.823],[1.233,-0.809],[1.237,-0.832],[1.242,-0.817],[1.246,-0.803],[1.250,-0.826],[1.254,-0.812],[1.259,-0.835],[1.263,-0.820],[1.267,-0.806],[1.271,-0.829],[1.276,-0.815],[1.280,-0.838],[1.284,-0.823],[1.288,-0.809],[1.293,-0.832],[1.297,-0.818],[1.301,-0.804],[1.305,-0.827],[1.310,-0.813],[1.314,-0.836],[1.318,-0.821],[1.322,-0.807],[1.327,-0.830],[1.331,-0.816],[1.335,-0.802],[1.339,-0.825],[1.344,-0.811],[1.348,-0.834],[1.352,-0.819],[1.356,-0.805],[1.361,-0.828],[1.365,-0.814],[1.369,-0.800],[1.373,-0.823],[1.378,-0.809],[1.382,-0.832],[1.386,-0.817],[1.390,-0.803],[1.395,-0.826],[1.399,-0.812],[1.403,-0.798],[1.407,-0.821],[1.412,-0.807],[1.416,-0.826],[1.420,-0.812],[1.424,-0.798],[1.429,-0.819],[1.433,-0.805],[1.437,-0.791],[1.441,-0.814],[1.446,-0.800],[1.450,-0.786],[1.454,-0.809],[1.458,-0.795],[1.463,-0.781],[1.467,-0.804],[1.471,-0.790],[1.475,-0.812],[1.480,-0.797],[1.484,-0.783],[1.488,-0.806],[1.492,-0.792],[1.497,-0.778],[1.501,-0.801],[1.505,-0.787],[1.509,-0.809],[1.514,-0.794],[1.518,-0.780],[1.522,-0.803],[1.526,-0.789],[1.531,-0.811],[1.535,-0.796],[1.539,-0.782],[1.543,-0.805],[1.548,-0.791],[1.552,-0.813],[1.556,-0.798],[1.560,-0.784],[1.565,-0.807],[1.569,-0.793],[1.573,-0.779],[1.577,-0.802],[1.582,-0.788],[1.586,-0.810],[1.590,-0.795],[1.594,-0.781],[1.599,-0.804],[1.603,-0.790],[1.607,-0.812],[1.611,-0.797],[1.616,-0.783],[1.620,-0.806],[1.624,-0.792],[1.628,-0.778],[1.633,-0.796],[1.637,-0.782],[1.641,-0.768],[1.645,-0.789],[1.650,-0.775],[1.654,-0.761],[1.658,-0.783],[1.662,-0.769],[1.667,-0.756],[1.671,-0.777],[1.675,-0.763],[1.679,-0.782],[1.684,-0.759],[1.688,-0.772],[1.692,-0.751],[1.696,-0.766],[1.701,-0.745],[1.705,-0.760],[1.709,-0.774],[1.713,-0.750],[1.718,-0.737],[1.722,-0.752],[1.726,-0.731],[1.730,-0.745],[1.735,-0.725],[1.739,-0.740],[1.743,-0.722],[1.747,-0.736],[1.752,-0.718],[1.756,-0.731],[1.760,-0.713],[1.764,-0.727],[1.769,-0.709],[1.773,-0.722],[1.777,-0.704],[1.781,-0.718],[1.786,-0.729],[1.790,-0.707],[1.794,-0.721],[1.798,-0.700],[1.803,-0.714],[1.807,-0.726],[1.811,-0.705],[1.815,-0.719],[1.820,-0.731],[1.824,-0.710],[1.828,-0.723],[1.832,-0.702],[1.837,-0.716],[1.841,-0.728],[1.845,-0.706],[1.849,-0.719],[1.851,-0.700]];
const c24 = [[0.796,-0.796],[0.804,-0.787],[0.811,-0.779],[0.819,-0.791],[0.827,-0.783],[0.836,-0.775],[0.844,-0.789],[0.853,-0.781],[0.861,-0.792],[0.870,-0.774],[0.878,-0.766],[0.887,-0.776],[0.895,-0.764],[0.904,-0.770],[0.912,-0.761],[0.921,-0.772],[0.929,-0.764],[0.938,-0.756],[0.946,-0.763],[0.955,-0.750],[0.963,-0.756],[0.972,-0.759],[0.980,-0.750],[0.989,-0.757],[0.997,-0.762],[1.006,-0.764],[1.014,-0.770],[1.023,-0.776],[1.031,-0.786],[1.040,-0.797],[1.048,-0.802],[1.057,-0.808],[1.065,-0.814],[1.074,-0.810],[1.082,-0.816],[1.091,-0.804],[1.099,-0.812],[1.108,-0.818],[1.116,-0.808],[1.125,-0.815],[1.133,-0.811],[1.142,-0.804],[1.150,-0.813],[1.159,-0.819],[1.167,-0.808],[1.176,-0.815],[1.184,-0.810],[1.193,-0.816],[1.201,-0.806],[1.210,-0.812],[1.218,-0.821],[1.227,-0.815],[1.235,-0.820],[1.244,-0.812],[1.252,-0.818],[1.261,-0.825],[1.269,-0.813],[1.278,-0.819],[1.286,-0.828],[1.295,-0.815],[1.303,-0.821],[1.312,-0.811],[1.320,-0.824],[1.329,-0.818],[1.337,-0.813],[1.346,-0.821],[1.354,-0.828],[1.363,-0.818],[1.371,-0.811],[1.380,-0.820],[1.388,-0.824],[1.397,-0.816],[1.405,-0.810],[1.414,-0.817],[1.422,-0.806],[1.431,-0.812],[1.439,-0.803],[1.448,-0.810],[1.456,-0.799],[1.465,-0.793],[1.473,-0.801],[1.482,-0.790],[1.490,-0.798],[1.499,-0.792],[1.507,-0.799],[1.516,-0.787],[1.524,-0.796],[1.533,-0.791],[1.541,-0.799],[1.550,-0.786],[1.558,-0.795],[1.567,-0.800],[1.575,-0.789],[1.584,-0.797],[1.592,-0.790],[1.601,-0.799],[1.609,-0.803],[1.618,-0.793],[1.626,-0.799],[1.635,-0.787],[1.643,-0.778],[1.652,-0.770],[1.660,-0.776],[1.669,-0.768],[1.677,-0.760],[1.686,-0.766],[1.694,-0.758],[1.703,-0.752],[1.711,-0.760],[1.720,-0.744],[1.728,-0.738],[1.737,-0.732],[1.745,-0.728],[1.754,-0.725],[1.762,-0.720],[1.771,-0.715],[1.779,-0.711],[1.788,-0.716],[1.796,-0.710],[1.805,-0.708],[1.813,-0.712],[1.822,-0.717],[1.830,-0.709],[1.839,-0.713],[1.847,-0.711]];
const o24 = [[0.816,-0.708],[0.82,-0.7],[0.812,-0.748],[0.818,-0.752],[0.822,-0.737],[0.837,-0.738],[0.855,-0.734],[0.849,-0.832],[0.853,-0.815],[0.86,-0.815],[0.899,-0.801],[0.907,-0.706],[0.91,-0.726],[0.914,-0.724],[0.9,-0.74],[0.973,-0.727],[0.998,-0.724],[0.976,-0.79],[1.056,-0.763],[1.066,-0.756],[1.06,-0.752],[1.09,-0.77],[1.072,-0.83],[1.09,-0.832],[1.135,-0.753],[1.137,-0.734],[1.159,-0.772],[1.165,-0.772],[1.17,-0.763],[1.28,-0.754],[1.286,-0.734],[1.215,-0.795],[1.233,-0.795],[1.318,-0.8],[1.338,-0.795],[1.39,-0.79],[1.406,-0.846],[1.396,-0.84],[1.442,-0.752],[1.438,-0.716],[1.444,-0.72],[1.49,-0.758],[1.495,-0.75],[1.5,-0.808],[1.621,-0.832],[1.605,-0.785],[1.695,-0.72],[1.713,-0.72],[1.757,-0.697],[1.767,-0.76],[1.774,-0.748],[1.823,-0.746],[1.778,-0.687],[1.787,-0.687],[1.805,-0.69],[1.2,-0.835],[1.25,-0.84],[1.3,-0.84],[1.35,-0.842],[1.45,-0.83],[1.55,-0.82],[1.58,-0.82],[1.1,-0.835],[0.8,-0.82],[0.83,-0.765],[0.95,-0.73],[1.03,-0.745]];

const d16 = b16.concat(c16, e16, o16), d19 = b19.concat(c19, e19, o19), d23 = b23.concat(c23, o23), d24 = b24.concat(c24, o24);
const styles = [
  {symbol: "diamond2", r: 2.6, fill: "black", stroke: "none"},
  {symbol: "triangle", r: 2.5, fill: "black", stroke: "none"},
  {symbol: "square", r: 2.2, fill: "white", stroke: "#333", strokeWidth: 0.9},
  {symbol: "triangle", r: 2.5, fill: "white", stroke: "#444", strokeWidth: 0.9}
];
const fmt = d => String(d);
const font = "'Liberation Sans', Arial, sans-serif";

const chart = Plot.plot({
  width: 796, height: 493,
  marginTop: 35, marginLeft: 60, marginRight: 5, marginBottom: 52,
  style: {fontFamily: font, fontSize: "13px", background: "white", color: "black", overflow: "visible"},
  x: {domain: [0.4, 2]},
  y: {domain: [-1.4, -0.6], reverse: true},
  marks: [
    Plot.gridY(yTicks, {stroke: "black", strokeOpacity: 1}),
    Plot.gridX(xTicks, {stroke: "black", strokeOpacity: 0.8}),
    Plot.frame({stroke: "#888"}),
    Plot.ruleX([0.4], {stroke: "black"}),
    Plot.axisX({ticks: xTicks, tickFormat: fmt, tickSize: 5, tickPadding: 11, label: null, fontSize: 13, stroke: "#888"}),
    Plot.axisY({ticks: yTicks, tickFormat: fmt, tickSize: 5, tickPadding: 7, label: null, fontSize: 13}),
    Plot.dot(d16, {x: d => d[0], y: d => d[1], ...styles[0]}),
    Plot.dot(d19, {x: d => d[0], y: d => d[1], ...styles[1]}),
    Plot.dot(d23, {x: d => d[0], y: d => d[1], ...styles[2]}),
    Plot.dot(d24, {x: d => d[0], y: d => d[1], ...styles[3]})
  ]
});
document.getElementById("chart").appendChild(chart);

const svg = d3.select(chart);
svg.append("text").attr("x", 398.5).attr("y", 19.5).attr("text-anchor", "middle")
  .style("font-family", font).style("font-size", "13px").text(title);
svg.append("text").attr("x", 424).attr("y", 490.5).attr("text-anchor", "middle")
  .style("font-family", font).style("font-size", "13px").style("font-weight", "bold").text(xLabel);
svg.append("text").attr("transform", "translate(17,238) rotate(-90)").attr("text-anchor", "middle")
  .style("font-family", font).style("font-size", "13px").style("font-weight", "bold").text(yLabel);

// legend
const lg = svg.append("g");
lg.append("rect").attr("x", 698.5).attr("y", 261.5).attr("width", 86).attr("height", 83)
  .attr("fill", "white").attr("stroke", "black");
const symMap = {diamond2: d3.symbolDiamond2, triangle: d3.symbolTriangle, square: d3.symbolSquare};
const rowY = [273, 293.5, 314, 334.5];
seriesNames.forEach((name, i) => {
  const s = styles[i];
  const lr = Math.min(s.r, 2.1);
  lg.append("path").attr("d", d3.symbol(symMap[s.symbol], Math.PI * lr * lr)())
    .attr("transform", `translate(705,${rowY[i]})`)
    .attr("fill", s.fill).attr("stroke", s.stroke).attr("stroke-width", s.strokeWidth || 0);
  lg.append("text").attr("x", 712).attr("y", rowY[i]).attr("dy", "0.36em").attr("text-anchor", "start")
    .style("font-family", font).style("font-size", "13px").text(name);
});
</script>
</body></html>
